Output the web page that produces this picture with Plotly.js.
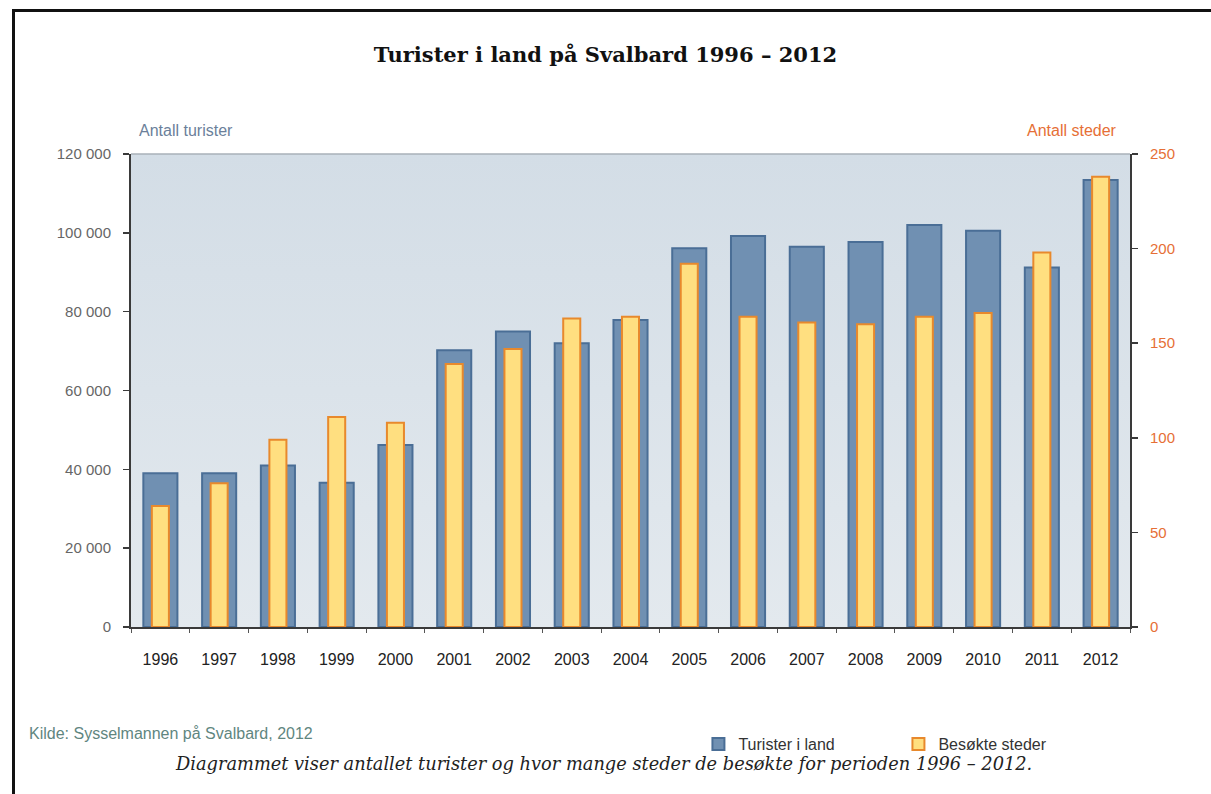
<!DOCTYPE html>
<html>
<head>
<meta charset="utf-8">
<script src="https://cdn.plot.ly/plotly-3.0.1.min.js"></script>
<style>
  html, body { margin: 0; padding: 0; background: #ffffff; }
  #wrap { position: relative; width: 1211px; height: 794px; overflow: hidden; }
  #frame { position: absolute; left: 12px; top: 9px; width: 1199px; height: 785px;
           border-top: 3px solid #111; border-left: 3px solid #111; box-sizing: border-box; }
  #chart { position: absolute; left: 0; top: 0; width: 1211px; height: 794px; }
</style>
</head>
<body>
<div id="wrap">
  <div id="frame"></div>
  <div id="chart"></div>
</div>
<script>
// ---- data ----
const years = ["1996","1997","1998","1999","2000","2001","2002","2003","2004",
               "2005","2006","2007","2008","2009","2010","2011","2012"];
const turisterILand = [39000, 39000, 41000, 36600, 46200, 70200, 75000, 72000, 77900,
                       96100, 99200, 96500, 97700, 102000, 100500, 91200, 113400];
const besokteSteder = [64, 76, 99, 111, 108, 139, 147, 163, 164,
                       192, 164, 161, 160, 164, 166, 198, 238];
const leftTickVals = [0, 20000, 40000, 60000, 80000, 100000, 120000];
const leftTickText = ["0", "20 000", "40 000", "60 000", "80 000", "100 000", "120 000"];
const rightTickVals = [0, 50, 100, 150, 200, 250];

const bgSvg = "data:image/svg+xml;utf8," + encodeURIComponent(
  '<svg xmlns="http://www.w3.org/2000/svg" width="100" height="100" preserveAspectRatio="none">' +
  '<defs><linearGradient id="g" x1="0" y1="0" x2="0" y2="1">' +
  '<stop offset="0" stop-color="#d3dde6"/><stop offset="1" stop-color="#e3e9ee"/>' +
  '</linearGradient></defs><rect width="100" height="100" fill="url(#g)"/></svg>');

const traces = [
  {
    type: "bar", name: "Turister i land", x: years, y: turisterILand,
    width: 0.58,
    marker: { color: "#7090b2", line: { color: "#4a6e96", width: 2 } },
    yaxis: "y"
  },
  {
    type: "bar", name: "Besøkte steder", x: years, y: besokteSteder,
    width: 0.29,
    marker: { color: "#ffdf80", line: { color: "#e8892c", width: 2 } },
    yaxis: "y2"
  }
];

const layout = {
  width: 1211, height: 794,
  margin: { l: 131, r: 81, t: 154, b: 167 },
  paper_bgcolor: "rgba(0,0,0,0)",
  plot_bgcolor: "#dae2e9",
  barmode: "overlay",
  showlegend: true,
  font: { family: "Liberation Sans, Arial, sans-serif", color: "#555" },
  title: {
    text: "<b>Turister i land på Svalbard 1996 – 2012</b>",
    font: { family: "DejaVu Serif, serif", size: 21, color: "#111" },
    xref: "container", x: 0.5, xanchor: "center",
    yref: "container", y: 1 - 55 / 794, yanchor: "middle"
  },
  xaxis: {
    type: "category",
    showline: true, linecolor: "#3a3a3a", linewidth: 2,
    ticks: "outside", tickson: "boundaries", ticklen: 4, tickcolor: "#555", tickwidth: 1,
    ticklabelstandoff: 17,
    tickfont: { size: 16, color: "#222" },
    showgrid: false, zeroline: false
  },
  yaxis: {
    range: [0, 120000],
    tickvals: leftTickVals, ticktext: leftTickText,
    showline: true, linecolor: "#3a3a3a", linewidth: 2,
    ticks: "outside", ticklen: 6, tickcolor: "#3a3a3a", tickwidth: 1.5,
    ticklabelstandoff: 9,
    tickfont: { size: 15, color: "#666" },
    showgrid: false, zeroline: false
  },
  yaxis2: {
    range: [0, 250], overlaying: "y", side: "right",
    tickvals: rightTickVals,
    showline: true, linecolor: "#3a3a3a", linewidth: 2,
    ticks: "outside", ticklen: 6, tickcolor: "#3a3a3a", tickwidth: 1.5,
    ticklabelstandoff: 9,
    tickfont: { size: 15, color: "#e66f36" },
    showgrid: false, zeroline: false
  },
  legend: {
    orientation: "h", x: 0.568, xanchor: "left", y: (627 - 744) / 473, yanchor: "middle",
    entrywidth: 155, entrywidthmode: "pixels",
    font: { size: 16, color: "#333" }, bgcolor: "rgba(0,0,0,0)", traceorder: "normal"
  },
  images: [{
    source: bgSvg, xref: "paper", yref: "paper", x: 0, y: 1, sizex: 1, sizey: 1,
    sizing: "stretch", layer: "below", xanchor: "left", yanchor: "top"
  }],
  shapes: [{
    type: "line", xref: "paper", yref: "paper", x0: 0, x1: 1, y0: 1, y1: 1,
    line: { color: "#a9b1b9", width: 1.5 }
  }],
  annotations: [
    { text: "Antall turister", xref: "paper", yref: "paper", x: (137 - 131) / 999, y: (627 - 130) / 473,
      xanchor: "left", yanchor: "middle", showarrow: false, font: { size: 16, color: "#6b7f9a" } },
    { text: "Antall steder", xref: "paper", yref: "paper", x: (1119 - 131) / 999, y: (627 - 130) / 473,
      xanchor: "right", yanchor: "middle", showarrow: false, font: { size: 16, color: "#e66f36" } },
    { text: "Kilde: Sysselmannen på Svalbard, 2012", xref: "paper", yref: "paper",
      x: (27 - 131) / 999, y: (627 - 733) / 473, xanchor: "left", yanchor: "middle",
      showarrow: false, font: { size: 16, color: "#5f867f" } },
    { text: "<i>Diagrammet viser antallet turister og hvor mange steder de besøkte for perioden 1996 – 2012.</i>",
      xref: "paper", yref: "paper", x: (603 - 131) / 999, y: (627 - 763) / 473,
      xanchor: "center", yanchor: "middle", showarrow: false,
      font: { family: "DejaVu Serif, serif", size: 17.8, color: "#222" } }
  ]
};

Plotly.newPlot("chart", traces, layout, { displayModeBar: false, staticPlot: true });
</script>
</body>
</html>
